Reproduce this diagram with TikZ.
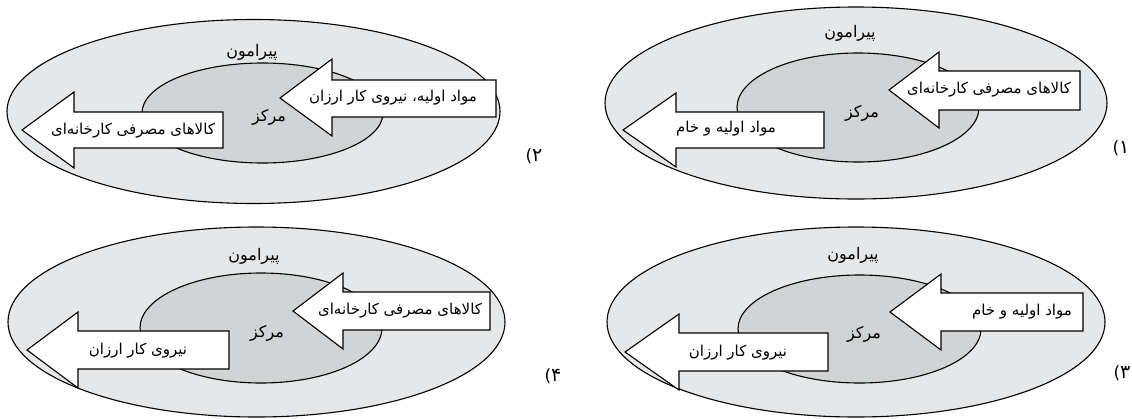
\documentclass[tikz,border=0pt]{standalone}
\usepackage{fontspec}
\TeXXeTstate=1
\newfontfamily\fa[Script=Arabic]{DejaVu Sans}
\newfontfamily\dv{DejaVu Sans}
\definecolor{outerfill}{HTML}{E6E7E8}
\definecolor{innerfill}{HTML}{D1D3D4}
\tikzset{
  outerell/.style={draw=black, fill=outerfill, line width=1.1pt},
  innerell/.style={draw=black, fill=innerfill, line width=1.1pt},
  arrowbox/.style={draw=black, fill=white, line width=1.1pt, line join=miter},
  lbl/.style={font=\fa\fontsize{15}{18}\selectfont, inner sep=0pt},
  biglbl/.style={font=\fa\fontsize{16}{19}\selectfont, inner sep=0pt},
  numlbl/.style={font=\fontsize{19}{22}\selectfont, inner sep=0pt}
}
\newcommand{\fatext}[1]{\beginR #1\endR}
\newcommand{\numtext}[1]{{\dv\fontsize{17}{20}\selectfont(}{\fa #1}}
\begin{document}
\begin{tikzpicture}[x=1pt,y=-1pt]
\useasboundingbox (0,0) rectangle (1132,418);

% ---------- Panel 1 (top right)
\draw[outerell] (856,103) ellipse [x radius=251, y radius=96];
\draw[innerell] (858,107.5) ellipse [x radius=121, y radius=54.5];
\draw[arrowbox] (889,90) -- (939,52) -- (939,71) -- (1080,71) -- (1080,110) -- (939,110) -- (939,128) -- cycle;
\draw[arrowbox] (623,130) -- (676,93) -- (676,112) -- (824,112) -- (824,148) -- (676,148) -- (676,167) -- cycle;
\node[biglbl] (p1per) at (850,33) {\fatext{پیرامون}};
\node[biglbl] (p1mar) at (862,113) {\fatext{مرکز}};
\node[lbl] (p1r) at (989,90) {\fatext{کالاهای مصرفی کارخانه‌ای}};
\node[lbl] (p1l) at (726,129) {\fatext{مواد اولیه و خام}};
\node[numlbl] (p1n) at (1121,148) {\numtext{۱}};

% ---------- Panel 2 (top left)
\draw[outerell] (253.5,111.5) ellipse [x radius=246.5, y radius=92];
\draw[innerell] (262.5,113) ellipse [x radius=120.5, y radius=50];
\draw[arrowbox] (280,98) -- (332,59) -- (332,80) -- (496,80) -- (496,117) -- (332,117) -- (332,136) -- cycle;
\draw[arrowbox] (22,130) -- (74,92) -- (74,112) -- (223,112) -- (223,148) -- (74,148) -- (74,168) -- cycle;
\node[biglbl] (p2per) at (252,52) {\fatext{پیرامون}};
\node[biglbl] (p2mar) at (269,117) {\fatext{مرکز}};
\node[lbl] (p2r) at (393,98) {\fatext{مواد اولیه، نیروی کار ارزان}};
\node[lbl] (p2l) at (133,131) {\fatext{کالاهای مصرفی کارخانه‌ای}};
\node[numlbl] (p2n) at (534,156) {\numtext{۲}};

% ---------- Panel 4 (bottom left)
\draw[outerell] (256.5,322) ellipse [x radius=248.5, y radius=95];
\draw[innerell] (261,328) ellipse [x radius=121, y radius=55];
\draw[arrowbox] (293,311) -- (343,273) -- (343,292) -- (490,292) -- (490,330) -- (343,330) -- (343,349) -- cycle;
\draw[arrowbox] (27,350) -- (78,312) -- (78,331) -- (229,331) -- (229,369) -- (78,369) -- (78,388) -- cycle;
\node[biglbl] (p4per) at (254,256) {\fatext{پیرامون}};
\node[biglbl] (p4mar) at (267,333) {\fatext{مرکز}};
\node[lbl] (p4r) at (400,311) {\fatext{کالاهای مصرفی کارخانه‌ای}};
\node[lbl] (p4l) at (138,351) {\fatext{نیروی کار ارزان}};
\node[numlbl] (p4n) at (553,376) {\numtext{۴}};

% ---------- Panel 3 (bottom right)
\draw[outerell] (856,322) ellipse [x radius=249, y radius=95];
\draw[innerell] (859.5,329) ellipse [x radius=121.5, y radius=54];
\draw[arrowbox] (890,312) -- (941,274) -- (941,293) -- (1083,293) -- (1083,331) -- (941,331) -- (941,350) -- cycle;
\draw[arrowbox] (625,352) -- (679,314) -- (679,333) -- (828,333) -- (828,371) -- (679,371) -- (679,390) -- cycle;
\node[biglbl] (p3per) at (853,255) {\fatext{پیرامون}};
\node[biglbl] (p3mar) at (864,334) {\fatext{مرکز}};
\node[lbl] (p3r) at (1022,312) {\fatext{مواد اولیه و خام}};
\node[lbl] (p3l) at (738,353) {\fatext{نیروی کار ارزان}};
\node[numlbl] (p3n) at (1122,373) {\numtext{۳}};
\end{tikzpicture}
\end{document}
